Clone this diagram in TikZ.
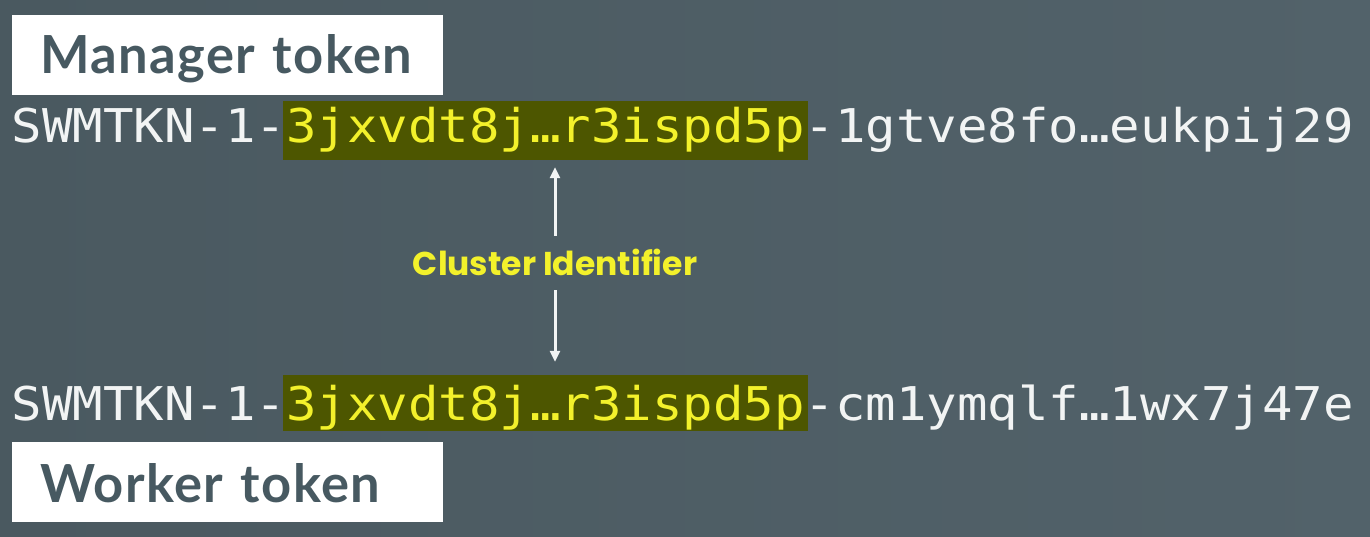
\documentclass[tikz,border=0pt]{standalone}
\usepackage{fontspec}
\setmainfont{Poppins}
\newfontfamily\tokmono[FakeStretch=1.0895]{DejaVu Sans Mono}
\newfontfamily\headfont[LetterSpace=2.7]{Lato}
\newfontfamily\lblfont{Poppins}
\usetikzlibrary{arrows.meta,calc}
\definecolor{bgc}{HTML}{4A5960}
\definecolor{bgr}{HTML}{52626A}
\definecolor{boxtext}{HTML}{475961}
\definecolor{hlfill}{HTML}{4D5600}
\definecolor{hltext}{HTML}{F3F12B}
\definecolor{tokwhite}{HTML}{F2F4F4}
\hbadness=10000 \hfuzz=200pt
\begin{document}
\begin{tikzpicture}[x=1bp,y=-1bp,
  headbox/.style={draw=none,fill=white,anchor=north west,inner ysep=0pt,inner xsep=28bp,
    text width=375bp,align=left,text=boxtext,font=\headfont\bfseries\fontsize{52.5bp}{60bp}\selectfont},
  tok/.style={anchor=base west,inner sep=0pt,text=tokwhite,font=\tokmono\fontsize{46.5bp}{50bp}\selectfont,
    text height=42bp,text depth=17bp},
  hl/.style={tok,fill=hlfill,text=hltext,inner xsep=3bp},
  lbl/.style={inner sep=0pt,text=hltext,font=\lblfont\bfseries\fontsize{33bp}{36bp}\selectfont,
    text height=23bp,text depth=0bp},
  arr/.style={draw=tokwhite,line width=3bp,-{Triangle[length=11bp,width=10bp]}}]
\shade[left color=bgc,right color=bgr] (0,0) rectangle (1370,537);
\useasboundingbox (0,0) rectangle (1370,537);
% headers
\node[headbox,text height=58bp,text depth=22bp] (mgr) at (12,15) {\mbox{Manager token}};
\node[headbox,text height=60bp,text depth=20bp] (wrk) at (12,442) {\mbox{Worker token}};
% manager token line
\node[tok] (m1) at (11.5,143) {SWMTKN-1-};
\node[hl]  (mh) at (11.5+274.5-3,143) {3jxvdt8j…r3ispd5p};
\node[tok] (m3) at (11.5+793,143) {-1gtve8fo…eukpij29};
% worker token line
\node[tok] (w1) at (11.5,420) {SWMTKN-1-};
\node[hl,text height=45bp,text depth=11bp]  (wh) at (11.5+274.5-3,420) {3jxvdt8j…r3ispd5p};
\node[tok] (w3) at (11.5+793,420) {-cm1ymqlf…1wx7j47e};
% label
\node[lbl,anchor=base] (cid) at (555,275) {Cluster Identifier};
\draw[arr,shorten <=16bp] (cid.north) -- ($(cid.north |- mh.south)+(0,7)$);
\draw[arr,shorten <=15bp] (cid.south) -- ($(cid.south |- wh.north)+(0,-13)$);
\end{tikzpicture}
\end{document}
